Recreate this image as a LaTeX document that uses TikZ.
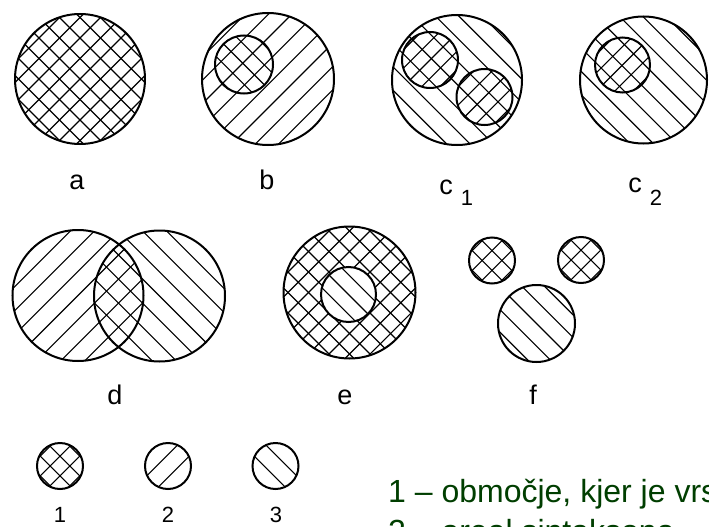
\documentclass[tikz,border=0pt]{standalone}
\usepackage{fontspec}
\setmainfont{Liberation Sans}
\usetikzlibrary{calc}
\definecolor{txtgreen}{RGB}{0,62,0}
\tikzset{
  rim/.style={draw=black, line width=2pt},
  hl/.style={draw=black, line width=1.1pt},
  lab/.style={font=\fontsize{27}{27}\selectfont, inner sep=0pt, anchor=base},
  sublab/.style={font=\fontsize{22}{22}\selectfont, inner sep=0pt, anchor=base},
  legtxt/.style={font=\fontsize{32}{32}\selectfont, text=txtgreen, inner sep=0pt, anchor=base west}
}
% #1 cx, #2 cy, #3 angle (45 = /, -45 = \), #4 spacing, #5 phase
\newcommand\hatchlines[5]{%
  \begin{scope}[shift={(#1,#2)}, rotate=#3]
    \foreach \k in {-8,...,8}{\draw[hl] (-100,\k*#4+#5) -- (100,\k*#4+#5);}
  \end{scope}}
\begin{document}
\begin{tikzpicture}[x=1pt,y=-1pt]
\useasboundingbox (0,0) rectangle (709,527);
\clip (0,0) rectangle (709,527);

% ---- a ----
\begin{scope}\clip (80,79) circle[radius=65pt];
  \hatchlines{80}{79}{45}{14.5}{0}\hatchlines{80}{79}{-45}{14.5}{0}\end{scope}
\draw[rim] (80,79) circle[radius=65pt];

% ---- b ----
\begin{scope}\clip (268,79) circle[radius=66pt];
  \hatchlines{268}{79}{45}{16.5}{4}\end{scope}
\begin{scope}\clip (244,64.5) circle[radius=29pt];
  \hatchlines{244}{64.5}{-45}{14}{0}\end{scope}
\draw[rim] (268,79) circle[radius=66pt];
\draw[rim] (244,64.5) circle[radius=29pt];

% ---- c1 ----
\begin{scope}\clip (457,80) circle[radius=65pt];
  \hatchlines{457}{80}{-45}{16.5}{3}\end{scope}
\begin{scope}\clip (430,60) circle[radius=28pt];
  \hatchlines{430}{60}{45}{13}{0}\end{scope}
\begin{scope}\clip (484.5,97) circle[radius=28pt];
  \hatchlines{484.5}{97}{45}{13}{0}\end{scope}
\draw[rim] (457,80) circle[radius=65pt];
\draw[rim] (430,60) circle[radius=28pt];
\draw[rim] (484.5,97) circle[radius=28pt];

% ---- c2 ----
\begin{scope}\clip (643.5,80) circle[radius=63.5pt];
  \hatchlines{643.5}{80}{-45}{16.5}{5}\end{scope}
\begin{scope}\clip (622.5,65) circle[radius=27.5pt];
  \hatchlines{622.5}{65}{45}{13}{0}\end{scope}
\draw[rim] (643.5,80) circle[radius=63.5pt];
\draw[rim] (622.5,65) circle[radius=27.5pt];

% ---- d ----
\begin{scope}\clip (78,295.5) circle[radius=65.5pt];
  \hatchlines{78}{295.5}{45}{17}{0}\end{scope}
\begin{scope}\clip (159.5,296) circle[radius=65.5pt];
  \hatchlines{159.5}{296}{-45}{17}{0}\end{scope}
\draw[rim] (78,295.5) circle[radius=65.5pt];
\draw[rim] (159.5,296) circle[radius=65.5pt];

% ---- e ----
\begin{scope}\clip (349.5,292.5) circle[radius=66pt];
  \hatchlines{349.5}{292.5}{45}{14.5}{0}\hatchlines{349.5}{292.5}{-45}{14.5}{0}\end{scope}
\fill[white] (348.5,294.5) circle[radius=27.5pt];
\begin{scope}\clip (348.5,294.5) circle[radius=27.5pt];
  \hatchlines{348.5}{294.5}{-45}{14}{0}\end{scope}
\draw[rim] (349.5,292.5) circle[radius=66pt];
\draw[rim] (348.5,294.5) circle[radius=27.5pt];

% ---- f ----
\begin{scope}\clip (492,260.5) circle[radius=23pt];
  \hatchlines{492}{260.5}{45}{14}{7}\hatchlines{492}{260.5}{-45}{14}{7}\end{scope}
\draw[rim] (492,260.5) circle[radius=23pt];
\begin{scope}\clip (581,260) circle[radius=23pt];
  \hatchlines{581}{260}{45}{14}{7}\hatchlines{581}{260}{-45}{14}{7}\end{scope}
\draw[rim] (581,260) circle[radius=23pt];
\begin{scope}\clip (536.5,323.5) circle[radius=38.5pt];
  \hatchlines{536.5}{323.5}{-45}{16}{0}\end{scope}
\draw[rim] (536.5,323.5) circle[radius=38.5pt];

% ---- legend symbols ----
\begin{scope}\clip (60,466) circle[radius=23pt];
  \hatchlines{60}{466}{45}{14}{7}\hatchlines{60}{466}{-45}{14}{7}\end{scope}
\draw[rim] (60,466) circle[radius=23pt];
\begin{scope}\clip (168,466) circle[radius=23pt];
  \hatchlines{168}{466}{45}{16}{8}\end{scope}
\draw[rim] (168,466) circle[radius=23pt];
\begin{scope}\clip (275.5,466) circle[radius=23pt];
  \hatchlines{275.5}{466}{-45}{16}{8}\end{scope}
\draw[rim] (275.5,466) circle[radius=23pt];

% ---- labels ----
\node[lab] (la) at (77,189) {a};
\node[lab] (lb) at (267,189) {b};
\node[lab] (lc1) at (446,194) {c};
\node[sublab] (lc1s) at (467,205) {1};
\node[lab] (lc2) at (635,192) {c};
\node[sublab] (lc2s) at (656,205) {2};
\node[lab] (ld) at (115,404) {d};
\node[lab] (le) at (345,404) {e};
\node[lab] (lf) at (533,404) {f};
\node[sublab] (l1) at (60,522) {1};
\node[sublab] (l2) at (168,522) {2};
\node[sublab] (l3) at (276,522) {3};

% ---- legend text (cut by the frame) ----
\node[legtxt] (t1) at (388,502) {1 – območje, kjer je vrs};
\node[legtxt] (t2) at (388,542) {2 – areal sintaksona};
\end{tikzpicture}
\end{document}
